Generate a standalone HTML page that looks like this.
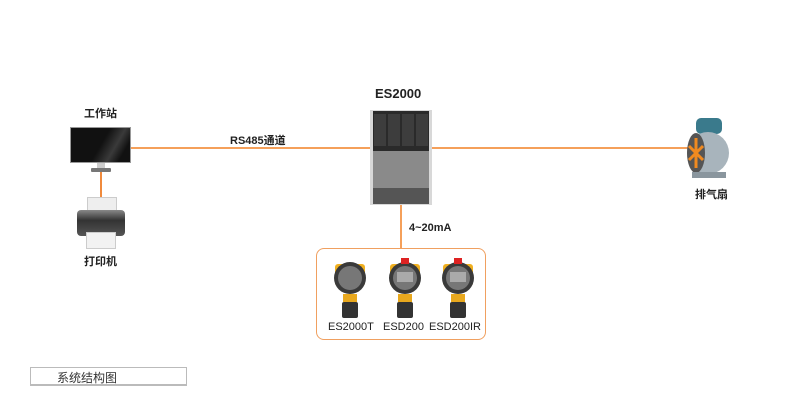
<!DOCTYPE html>
<html><head><meta charset="utf-8"><style>
body{margin:0;width:800px;height:420px;background:#fff;position:relative;overflow:hidden;font-family:"Liberation Sans","Noto Sans CJK SC",sans-serif;}
.a{position:absolute}
.t{position:absolute;font-weight:bold;font-size:11px;color:#222;white-space:nowrap}
</style></head><body>
<!-- lines -->
<div class="a" style="left:131px;top:147px;width:239px;height:2px;background:#f5a05a"></div>
<div class="a" style="left:432px;top:147px;width:260px;height:2px;background:#f5a05a"></div>
<div class="a" style="left:100px;top:172px;width:2px;height:26px;background:#f08a3c"></div>
<div class="a" style="left:400px;top:205px;width:2px;height:43px;background:#f5a05a"></div>
<div class="a" style="left:316px;top:248px;width:168px;height:90px;border:1.5px solid #f0a060;border-radius:8px"></div>

<div class="t" style="left:84px;top:105px">工作站</div>
<div class="t" style="left:230px;top:132px">RS485通道</div>
<div class="t" style="left:375px;top:86px;font-size:13px">ES2000</div>
<div class="t" style="left:409px;top:222px">4~20mA</div>
<div class="t" style="left:84px;top:253px">打印机</div>
<div class="t" style="left:695px;top:186px">排气扇</div>

<!-- monitor -->
<div class="a" style="left:70px;top:127px;width:61px;height:36px;background:linear-gradient(120deg,#111 50%,#3a3a3a 70%,#111 85%);border:1px solid #999;box-sizing:border-box"></div>
<div class="a" style="left:97px;top:163px;width:8px;height:5px;background:#ccc"></div>
<div class="a" style="left:91px;top:168px;width:20px;height:4px;background:#777;border-radius:1px"></div>
<!-- printer -->
<div class="a" style="left:87px;top:197px;width:28px;height:16px;background:#eee;border:1px solid #ccc"></div>
<div class="a" style="left:77px;top:210px;width:48px;height:26px;background:linear-gradient(#888,#333 40%,#555);border-radius:4px"></div>
<div class="a" style="left:86px;top:232px;width:28px;height:15px;background:#f2f2f2;border:1px solid #ccc"></div>

<!-- ES2000 -->
<div class="a" style="left:370px;top:110px;width:62px;height:95px;background:#d8d8d8"></div>
<div class="a" style="left:373px;top:111px;width:56px;height:40px;background:#2a2a2a"></div>
<div class="a" style="left:374px;top:114px;width:12px;height:32px;background:#3d3d3d"></div>
<div class="a" style="left:388px;top:114px;width:12px;height:32px;background:#3d3d3d"></div>
<div class="a" style="left:402px;top:114px;width:12px;height:32px;background:#3d3d3d"></div>
<div class="a" style="left:416px;top:114px;width:12px;height:32px;background:#3d3d3d"></div>
<div class="a" style="left:373px;top:151px;width:56px;height:37px;background:#8a8a8a"></div>
<div class="a" style="left:373px;top:188px;width:56px;height:16px;background:#555"></div>

<!-- sensors -->
<svg class="a" style="left:316px;top:248px" width="170" height="80">
<g id="s">
<rect x="19" y="16" width="30" height="22" rx="3" fill="#f0b020"/>
<circle cx="34" cy="30" r="16" fill="#3a3a3a"/>
<circle cx="34" cy="30" r="12" fill="#777"/>
<rect x="27" y="46" width="14" height="8" fill="#e8a81e"/>
<rect x="26" y="54" width="16" height="16" rx="2" fill="#333"/>
</g>
<use href="#s" x="55"/>
<use href="#s" x="108"/>
<rect x="85" y="10" width="8" height="6" fill="#d22"/>
<rect x="138" y="10" width="8" height="6" fill="#d22"/>
<rect x="81" y="24" width="16" height="10" fill="#aaa"/>
<rect x="134" y="24" width="16" height="10" fill="#aaa"/>
</svg>
<div class="t" style="left:328px;top:321px;font-weight:normal;font-size:11px">ES2000T</div>
<div class="t" style="left:383px;top:321px;font-weight:normal;font-size:11px">ESD200</div>
<div class="t" style="left:429px;top:321px;font-weight:normal;font-size:11px">ESD200IR</div>

<!-- fan -->
<svg class="a" style="left:682px;top:116px" width="50" height="66">
<rect x="14" y="2" width="26" height="16" rx="5" fill="#3a7a8c"/>
<circle cx="26" cy="37" r="21" fill="#a8b4bc"/>
<ellipse cx="14" cy="37" rx="9" ry="20" fill="#555"/>
<g stroke="#f08a20" stroke-width="3"><line x1="14" y1="22" x2="14" y2="52"/><line x1="7" y1="30" x2="21" y2="44"/><line x1="7" y1="44" x2="21" y2="30"/></g>
<rect x="10" y="56" width="34" height="6" fill="#8a969e"/>
</svg>

<!-- caption -->
<div class="a" style="left:30px;top:367px;width:157px;height:19px;border:1px solid #bbb;border-bottom:2px solid #bbb;box-sizing:border-box"></div>
<div class="t" style="left:57px;top:369px;font-size:12px;font-weight:normal;color:#333">系统结构图</div>
</body></html>
